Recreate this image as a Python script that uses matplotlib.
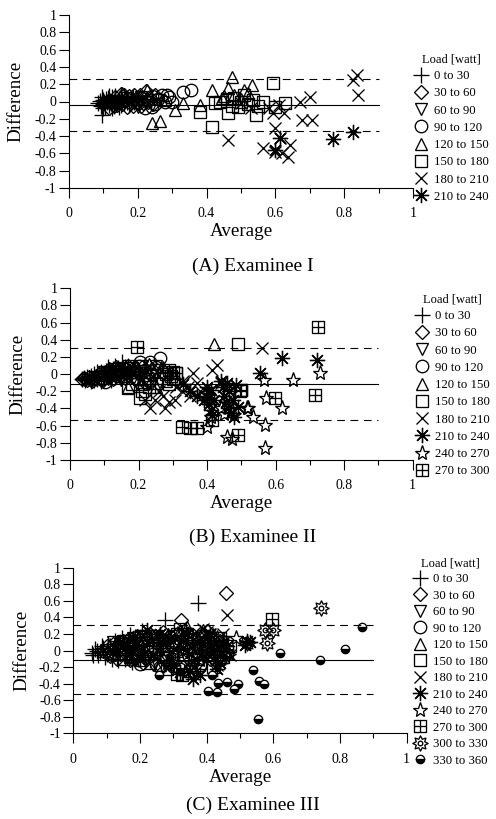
import matplotlib
matplotlib.use("Agg")
import matplotlib.pyplot as plt
from matplotlib.lines import Line2D
from matplotlib.path import Path
import numpy as np

plt.rcParams['font.family'] = ['Liberation Serif', 'DejaVu Serif']

# ---- data (average, difference) pairs ----
A_0_30 = [(0.085, -0.02), (0.09, 0.01), (0.092, -0.05), (0.095, -0.16), (0.098, 0.02), (0.10, -0.03),
          (0.103, 0.0), (0.106, -0.06), (0.108, 0.03), (0.11, -0.01), (0.113, 0.04), (0.116, -0.04),
          (0.12, 0.01), (0.123, -0.02), (0.126, 0.05), (0.13, -0.05), (0.133, 0.02), (0.137, -0.03),
          (0.14, 0.0), (0.145, 0.03), (0.15, -0.04), (0.155, 0.01), (0.16, -0.02), (0.165, 0.04),
          (0.17, 0.0), (0.18, 0.02), (0.19, -0.01), (0.2, 0.03), (0.095, 0.05), (0.1, -0.07),
          (0.115, 0.06), (0.125, -0.07), (0.135, 0.06), (0.145, -0.06), (0.15, 0.05), (0.16, 0.06),
          (0.175, -0.04), (0.185, 0.05)]
A_30_60 = [(0.115, -0.07), (0.125, 0.0), (0.135, 0.05), (0.15, 0.09), (0.155, -0.03), (0.165, 0.02),
           (0.175, 0.06), (0.185, -0.05), (0.195, 0.03), (0.205, 0.07), (0.215, -0.02), (0.225, 0.12),
           (0.235, 0.04), (0.245, -0.03), (0.17, -0.06), (0.14, -0.04), (0.2, 0.0), (0.13, -0.05),
           (0.16, 0.07), (0.19, 0.08), (0.21, -0.05), (0.23, 0.0), (0.25, 0.07)]
A_60_90 = [(0.13, 0.01), (0.15, -0.02), (0.17, 0.04), (0.19, 0.0), (0.2, -0.06), (0.21, 0.05),
           (0.22, 0.0), (0.24, -0.04), (0.26, 0.02), (0.18, -0.03)]
A_90_120 = [(0.2, -0.02), (0.21, 0.04), (0.22, -0.07), (0.23, 0.02), (0.24, 0.06), (0.25, -0.03),
            (0.26, 0.03), (0.27, 0.08), (0.28, -0.01), (0.29, 0.05), (0.3, 0.0), (0.33, 0.115),
            (0.355, 0.135), (0.24, -0.06), (0.285, 0.07)]
A_120_150 = [(0.153, 0.095), (0.226, 0.133), (0.24, -0.25), (0.265, -0.23), (0.28, 0.02), (0.308, -0.098),
             (0.331, -0.017), (0.38, -0.04), (0.415, 0.133), (0.444, 0.04), (0.45, 0.06), (0.462, 0.156),
             (0.473, 0.287), (0.48, 0.07), (0.5, 0.03), (0.51, 0.13), (0.531, 0.19), (0.52, 0.1)]
A_150_180 = [(0.38, -0.118), (0.415, -0.29), (0.424, -0.02), (0.44, 0.0), (0.462, -0.135), (0.46, 0.03),
             (0.475, -0.05), (0.49, -0.06), (0.5, 0.0), (0.51, 0.077), (0.52, -0.03), (0.535, 0.02),
             (0.545, -0.156), (0.55, -0.05), (0.565, -0.01), (0.594, 0.217), (0.6, -0.06), (0.628, -0.015),
             (0.48, 0.04)]
A_180_210 = [(0.462, -0.445), (0.5, -0.02), (0.53, -0.08), (0.565, -0.54), (0.594, -0.135), (0.6, -0.31),
             (0.613, -0.42), (0.61, -0.04), (0.625, -0.13), (0.642, -0.5), (0.637, -0.64), (0.618, -0.6),
             (0.6, -0.58), (0.672, 0.0), (0.70, 0.055), (0.676, -0.21), (0.706, -0.21), (0.826, 0.25),
             (0.836, 0.306), (0.84, 0.075), (0.58, -0.08)]
A_210_240 = [(0.613, -0.42), (0.6, -0.56), (0.768, -0.435), (0.826, -0.35)]

B_0_30 = [(0.035, -0.06), (0.04, -0.04), (0.045, -0.07), (0.05, -0.03), (0.055, -0.05), (0.06, -0.02),
          (0.065, -0.06), (0.07, 0.0), (0.075, -0.04), (0.08, 0.02), (0.085, -0.03), (0.09, 0.03),
          (0.095, -0.05), (0.1, 0.01), (0.105, 0.04), (0.11, -0.02), (0.115, 0.05), (0.12, 0.0),
          (0.125, 0.06), (0.13, -0.03), (0.135, 0.03), (0.14, 0.07), (0.145, -0.01), (0.151, 0.146),
          (0.155, 0.04), (0.16, 0.08), (0.165, 0.0), (0.17, 0.05), (0.06, -0.08), (0.07, -0.07),
          (0.08, -0.06), (0.09, -0.08), (0.1, -0.06), (0.11, 0.08), (0.12, -0.07), (0.13, 0.09),
          (0.15, -0.05), (0.17, 0.1), (0.18, -0.02), (0.19, 0.08), (0.2, 0.04), (0.21, -0.04)]
B_30_60 = [(0.035, -0.06), (0.04, -0.05), (0.05, -0.07), (0.06, -0.04), (0.07, -0.06), (0.08, -0.02),
           (0.09, -0.05), (0.1, 0.0), (0.11, -0.03), (0.12, 0.03), (0.13, -0.01), (0.14, 0.05),
           (0.15, 0.02), (0.16, -0.04), (0.18, 0.06), (0.2, 0.01), (0.045, -0.06), (0.055, -0.03),
           (0.065, -0.08), (0.075, -0.02), (0.085, 0.0), (0.095, -0.07), (0.105, 0.03), (0.115, 0.06),
           (0.125, -0.06), (0.135, 0.08), (0.17, 0.1), (0.19, -0.06), (0.21, 0.08), (0.22, -0.1),
           (0.24, 0.06)]
B_60_90 = [(0.08, -0.03), (0.1, 0.02), (0.12, -0.05), (0.14, 0.04), (0.16, 0.0), (0.18, 0.07),
           (0.2, -0.03), (0.22, 0.04), (0.24, -0.01), (0.26, 0.05), (0.11, -0.06), (0.13, 0.06),
           (0.15, -0.07), (0.17, 0.09), (0.19, -0.08), (0.21, 0.1), (0.23, -0.12), (0.25, 0.1)]
B_90_120 = [(0.09, -0.06), (0.102, -0.087), (0.12, 0.02), (0.14, -0.02), (0.16, 0.06), (0.18, 0.02),
            (0.2, 0.1), (0.205, 0.146), (0.22, 0.05), (0.234, 0.146), (0.25, 0.08), (0.263, 0.185),
            (0.24, 0.0), (0.27, 0.03), (0.19, -0.05), (0.23, -0.08)]
B_120_150 = [(0.14, 0.07), (0.16, -0.02), (0.18, 0.03), (0.2, -0.06), (0.22, 0.08), (0.24, -0.05),
             (0.26, 0.02), (0.28, -0.08), (0.42, 0.35), (0.17, -0.15), (0.19, 0.1), (0.21, -0.12),
             (0.23, 0.12), (0.25, -0.15), (0.27, 0.08)]
B_150_180 = [(0.17, -0.165), (0.18, -0.12), (0.204, -0.28), (0.21, -0.2), (0.23, -0.15), (0.25, -0.1),
             (0.27, -0.05), (0.28, 0.0), (0.29, -0.12), (0.3, -0.06), (0.31, 0.01), (0.491, 0.35),
             (0.5, -0.19), (0.22, -0.23)]
B_180_210 = [(0.22, -0.3), (0.234, -0.4), (0.248, -0.3), (0.26, -0.2), (0.277, -0.4), (0.29, -0.33),
             (0.306, -0.3), (0.31, -0.15), (0.326, -0.2), (0.345, -0.146), (0.35, -0.25), (0.36, 0.01),
             (0.37, -0.1), (0.38, -0.2), (0.413, 0.05), (0.428, 0.107), (0.44, -0.1), (0.56, 0.30),
             (0.27, -0.25), (0.33, -0.08)]
B_210_240 = [(0.33, -0.12), (0.35, -0.2), (0.37, -0.25), (0.39, -0.3), (0.40, -0.15), (0.403, -0.22),
             (0.405, -0.35), (0.407, -0.28), (0.41, -0.42), (0.412, -0.18), (0.415, -0.48), (0.42, -0.3),
             (0.44, -0.08), (0.447, -0.15), (0.45, -0.25), (0.455, -0.32), (0.458, -0.1), (0.46, -0.4),
             (0.465, -0.2), (0.47, -0.45), (0.475, -0.3), (0.48, -0.5), (0.485, -0.13), (0.49, -0.38),
             (0.553, 0.01), (0.618, 0.184), (0.72, 0.165)]
B_240_270 = [(0.4, -0.61), (0.41, -0.5), (0.457, -0.73), (0.472, -0.75), (0.45, -0.46), (0.48, -0.48),
             (0.516, -0.4), (0.52, -0.4), (0.535, -0.5), (0.567, -0.068), (0.569, -0.59), (0.569, -0.864),
             (0.572, -0.28), (0.62, -0.4), (0.652, -0.068), (0.73, 0.01), (0.44, -0.4)]
B_270_300 = [(0.195, 0.32), (0.29, 0.05), (0.3, 0.03), (0.31, 0.01), (0.295, -0.02), (0.327, -0.61),
             (0.35, -0.63), (0.37, -0.63), (0.415, -0.53), (0.49, -0.71), (0.495, -0.2), (0.5, -0.19),
             (0.598, -0.28), (0.715, -0.243), (0.725, 0.553)]

C_0_30 = [(0.055, -0.03), (0.06, -0.05), (0.07, 0.0), (0.08, -0.02), (0.09, 0.03), (0.1, -0.04),
          (0.11, 0.05), (0.12, 0.0), (0.13, 0.08), (0.14, -0.03), (0.15, 0.1), (0.16, 0.03),
          (0.17, 0.19), (0.18, -0.05), (0.19, 0.07), (0.205, 0.23), (0.21, 0.0), (0.22, 0.2),
          (0.24, 0.05), (0.275, 0.37), (0.375, 0.57), (0.065, 0.02), (0.075, -0.06), (0.085, 0.05),
          (0.095, -0.08), (0.105, 0.08), (0.115, -0.1), (0.125, 0.12), (0.135, -0.12), (0.145, 0.15),
          (0.155, -0.1), (0.165, 0.12), (0.175, -0.14), (0.185, 0.16), (0.195, -0.1), (0.23, -0.12),
          (0.25, 0.15), (0.26, -0.05), (0.28, 0.1)]
C_30_60 = [(0.09, 0.0), (0.12, 0.08), (0.14, -0.04), (0.16, 0.05), (0.18, 0.1), (0.2, -0.02),
           (0.22, 0.14), (0.24, 0.04), (0.26, 0.16), (0.28, -0.05), (0.3, 0.1), (0.323, 0.37),
           (0.34, 0.0), (0.36, 0.12), (0.38, 0.2), (0.4, 0.23), (0.42, 0.05), (0.458, 0.69),
           (0.1, 0.06), (0.11, -0.07), (0.13, -0.1), (0.15, 0.12), (0.17, -0.12), (0.19, 0.18),
           (0.21, -0.15), (0.23, 0.2), (0.25, -0.15), (0.27, 0.22), (0.29, -0.18), (0.31, 0.2),
           (0.33, -0.2), (0.35, 0.18), (0.37, -0.15), (0.39, 0.15), (0.41, -0.1), (0.44, 0.12)]
C_60_90 = [(0.1, -0.05), (0.13, 0.02), (0.16, -0.08), (0.19, 0.05), (0.22, -0.1), (0.25, 0.08),
           (0.28, -0.04), (0.31, 0.06), (0.34, -0.12), (0.37, 0.02), (0.4, -0.06), (0.12, 0.1),
           (0.15, 0.12), (0.18, 0.15), (0.21, 0.18), (0.24, -0.18), (0.27, -0.2), (0.3, 0.18),
           (0.33, 0.2), (0.36, -0.22), (0.39, 0.18), (0.42, -0.15), (0.45, 0.1)]
C_90_120 = [(0.12, -0.06), (0.15, 0.02), (0.18, -0.1), (0.21, 0.06), (0.24, -0.04), (0.27, 0.1),
            (0.3, -0.1), (0.33, 0.04), (0.36, -0.05), (0.39, 0.08), (0.42, -0.02), (0.45, 0.06),
            (0.14, 0.1), (0.17, 0.14), (0.2, -0.16), (0.23, 0.18), (0.26, -0.2), (0.29, 0.16),
            (0.32, -0.22), (0.35, 0.2), (0.38, -0.18), (0.41, 0.15), (0.44, -0.12)]
C_120_150 = [(0.15, 0.04), (0.18, 0.12), (0.21, 0.0), (0.24, 0.16), (0.27, 0.06), (0.285, 0.2),
             (0.31, 0.0), (0.34, 0.28), (0.35, 0.15), (0.37, 0.04), (0.4, 0.12), (0.43, -0.05), (0.45, 0.08),
             (0.17, -0.08), (0.2, -0.12), (0.23, -0.15), (0.26, -0.18), (0.29, -0.12), (0.32, 0.25),
             (0.36, -0.2), (0.39, 0.25), (0.42, 0.2), (0.46, -0.02)]
C_150_180 = [(0.15, -0.1), (0.19, -0.05), (0.23, 0.02), (0.27, -0.08), (0.3, 0.1), (0.31, 0.2),
             (0.32, 0.26), (0.33, -0.05), (0.36, 0.05), (0.38, -0.15), (0.4, 0.02), (0.43, 0.1),
             (0.45, -0.08), (0.46, 0.0), (0.17, 0.08), (0.21, 0.14), (0.25, 0.18), (0.28, -0.22),
             (0.34, 0.2), (0.35, -0.25), (0.39, 0.18), (0.42, -0.2), (0.44, 0.15), (0.47, 0.05)]
C_180_210 = [(0.2, -0.08), (0.25, 0.0), (0.3, -0.12), (0.32, 0.08), (0.35, -0.03), (0.38, 0.15),
             (0.4, -0.1), (0.42, 0.06), (0.44, -0.04), (0.46, 0.43), (0.4, 0.22), (0.41, 0.2),
             (0.22, 0.1), (0.27, 0.15), (0.28, -0.2), (0.33, 0.22), (0.36, -0.2), (0.39, 0.26),
             (0.43, -0.18), (0.45, 0.2), (0.47, -0.05)]
C_210_240 = [(0.12, -0.02), (0.16, 0.05), (0.2, -0.12), (0.22, 0.25), (0.24, -0.05), (0.27, 0.08),
             (0.3, -0.18), (0.33, 0.03), (0.35, -0.25), (0.36, -0.34), (0.39, -0.08), (0.42, 0.0),
             (0.44, -0.15), (0.515, 0.07), (0.53, 0.1), (0.52, 0.12), (0.14, 0.1), (0.18, 0.15),
             (0.26, 0.2), (0.29, 0.15), (0.32, -0.26), (0.34, 0.2), (0.37, 0.1), (0.41, 0.2),
             (0.43, -0.22), (0.46, 0.05), (0.38, -0.3)]
C_240_270 = [(0.15, 0.0), (0.2, 0.07), (0.25, -0.06), (0.3, 0.05), (0.35, -0.02), (0.4, 0.1),
             (0.45, 0.0), (0.488, 0.15), (0.18, -0.08), (0.23, 0.14), (0.28, -0.15), (0.33, 0.15),
             (0.38, -0.12), (0.43, 0.15)]
C_270_300 = [(0.22, 0.0), (0.28, 0.05), (0.31, -0.28), (0.325, -0.3), (0.34, 0.1), (0.37, -0.1),
             (0.4, 0.05), (0.43, 0.0), (0.445, 0.1), (0.595, 0.376)]
C_300_330 = [(0.2, 0.1), (0.3, -0.05), (0.38, 0.02), (0.44, -0.1), (0.465, -0.04), (0.52, 0.09),
             (0.575, 0.25), (0.6, 0.25), (0.582, 0.09), (0.742, 0.51)]
C_330_360 = [(0.257, -0.3), (0.415, -0.3), (0.405, -0.49), (0.43, -0.5), (0.435, -0.39), (0.46, -0.38),
             (0.482, -0.46), (0.495, -0.4), (0.54, -0.235), (0.555, -0.83), (0.558, -0.365), (0.573, -0.405),
             (0.62, -0.03), (0.74, -0.12), (0.815, 0.015), (0.865, 0.28)]

load_labels = ['0 to 30', '30 to 60', '60 to 90', '90 to 120', '120 to 150', '150 to 180',
               '180 to 210', '210 to 240', '240 to 270', '270 to 300', '300 to 330', '330 to 360']

# mean difference and limits of agreement
mean_diff = [-0.04, -0.11, -0.11]
upper_loa = [0.26, 0.31, 0.31]
lower_loa = [-0.34, -0.53, -0.53]
captions = ['(A) Examinee I', '(B) Examinee II', '(C) Examinee III']

panel_data = [
    [A_0_30, A_30_60, A_60_90, A_90_120, A_120_150, A_150_180, A_180_210, A_210_240],
    [B_0_30, B_30_60, B_60_90, B_90_120, B_120_150, B_150_180, B_180_210, B_210_240, B_240_270, B_270_300],
    [C_0_30, C_30_60, C_60_90, C_90_120, C_120_150, C_150_180, C_180_210, C_210_240, C_240_270,
     C_270_300, C_300_330, C_330_360],
]

# ---- custom markers ----
crossed_sq = Path([(-1, -1), (1, -1), (1, 1), (-1, 1), (-1, -1), (0, -1), (0, 1), (-1, 0), (1, 0)],
                  [Path.MOVETO, Path.LINETO, Path.LINETO, Path.LINETO, Path.CLOSEPOLY,
                   Path.MOVETO, Path.LINETO, Path.MOVETO, Path.LINETO])
ang = np.deg2rad(np.arange(16) * 22.5 + 90)
rad = np.where(np.arange(16) % 2 == 0, 1.0, 0.6)
star_pts = list(zip(rad * np.cos(ang), rad * np.sin(ang)))
sun_star = Path(star_pts + [star_pts[0]], [Path.MOVETO] + [Path.LINETO] * 15 + [Path.CLOSEPOLY])
sun = Path.make_compound_path(sun_star, Path.circle((0, 0), 0.3))

styles = [
    dict(marker='+', ms=11),
    dict(marker='D', ms=7),
    dict(marker='v', ms=8.5),
    dict(marker='o', ms=9),
    dict(marker='^', ms=8.5),
    dict(marker='s', ms=9),
    dict(marker='x', ms=9),
    dict(marker=(8, 2, 0), ms=11),
    dict(marker='*', ms=11),
    dict(marker=crossed_sq, ms=8.5),
    dict(marker=sun, ms=11),
    dict(marker='o', ms=6, fillstyle='bottom', mfc='black', mfcalt='white'),
]


def style_kw(i):
    kw = dict(ls='none', mec='black', mew=0.95, mfc='none')
    kw.update(styles[i])
    return kw


fig = plt.figure(figsize=(4.96, 8.19), dpi=100)
W, H = 496, 819
# axes boxes in pixels: left, right, top(y=1), bottom(y=-1)
boxes = [(69, 413, 15, 188), (70, 412.7, 288.3, 460), (73.3, 406.7, 567.7, 733.3)]
legend_tl = [(415, 53), (416, 293), (414, 557)]
caption_y = [266, 537, 805]
label_spacing = [0.41, 0.41, 0.35]

for p in range(3):
    l, r, t, b = boxes[p]
    ax = fig.add_axes([l / W, 1 - b / H, (r - l) / W, (b - t) / H])
    for i, pts in enumerate(panel_data[p]):
        xs = [q[0] for q in pts]
        ys = [q[1] for q in pts]
        ax.plot(xs, ys, **style_kw(i))

    ax.plot([0, 0.9], [mean_diff[p]] * 2, color='black', lw=0.8)
    ax.plot([0, 0.9], [upper_loa[p]] * 2, color='black', lw=0.8, ls=(0, (7, 5)))
    ax.plot([0, 0.9], [lower_loa[p]] * 2, color='black', lw=0.8, ls=(0, (7, 5)))

    ax.set_xlim(0, 1)
    ax.set_ylim(-1, 1)
    ax.set_xticks([0, 0.2, 0.4, 0.6, 0.8, 1])
    ax.set_xticklabels(['0', '0.2', '0.4', '0.6', '0.8', '1'])
    ax.set_xticks([0.1, 0.3, 0.5, 0.7, 0.9], minor=True)
    ax.set_yticks([-1, -0.8, -0.6, -0.4, -0.2, 0, 0.2, 0.4, 0.6, 0.8, 1])
    ax.set_yticklabels(['-1', '-0.8', '-0.6', '-0.4', '-0.2', '0', '0.2', '0.4', '0.6', '0.8', '1'])
    ax.tick_params(which='major', direction='out', length=7, width=0.8, labelsize=10, colors='black')
    ax.tick_params(which='minor', direction='out', length=3.5, width=0.8)
    ax.tick_params(axis='x', pad=7)
    ax.tick_params(axis='y', pad=2)
    ax.spines['top'].set_visible(False)
    ax.spines['right'].set_visible(False)
    ax.spines['left'].set_linewidth(0.8)
    ax.spines['bottom'].set_linewidth(0.8)
    ax.patch.set_visible(False)

    ax.set_xlabel('Average', fontsize=13.7, labelpad=2)
    ax.set_ylabel('Difference', fontsize=13.7)
    ax.yaxis.set_label_coords(-0.128, 0.5)

    n = len(panel_data[p])
    handles = [Line2D([], [], **style_kw(i)) for i in range(n)]
    lx, ly = legend_tl[p]
    leg = ax.legend(handles, load_labels[:n], title='Load [watt]', loc='upper left',
                    bbox_to_anchor=(lx / W, 1 - ly / H), bbox_transform=fig.transFigure,
                    frameon=False, fontsize=9.2, title_fontsize=9, borderpad=0, borderaxespad=0,
                    handlelength=1.0, handletextpad=0.45, labelspacing=label_spacing[p])

    fig.text(253 / W, 1 - caption_y[p] / H, captions[p], ha='center', va='center', fontsize=14)

fig.savefig('out.png', dpi=100)
